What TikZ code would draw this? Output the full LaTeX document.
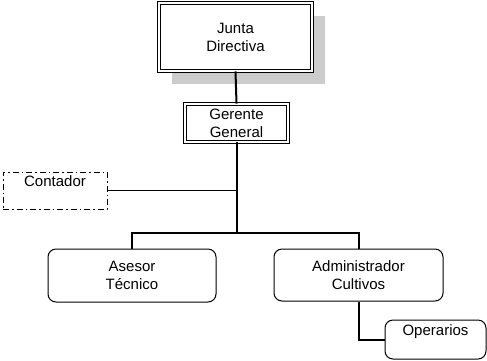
\documentclass[tikz,border=0pt]{standalone}
\usepackage{fontspec}
\setmainfont{Liberation Sans}
\usetikzlibrary{shadows}
\begin{document}
\begin{tikzpicture}[x=1pt,y=-1pt,
  every node/.style={font=\fontsize{15}{18}\selectfont, align=center, inner sep=0pt},
  conn/.style={line width=2pt},
  dbox/.style={draw, fill=white, double, line width=0.9pt, double distance=1.6pt},
  rbox/.style={draw, fill=white, rounded corners=8pt, line width=1pt},
  staff/.style={draw, dash pattern=on 6pt off 3pt on 1.5pt off 3pt, line width=0.9pt},
  shade/.style={general shadow={fill=black!20, shadow xshift=13pt, shadow yshift=-13pt}}]
  \useasboundingbox (0,0) rectangle (487,360);

  % governing boxes
  \node[dbox, shade, minimum width=153, minimum height=68] (jd) at (235.5,37) {Junta\\Directiva};
  \node[dbox, minimum width=103, minimum height=38] (gg) at (236.5,123) {Gerente\\General};

  % staff position (text set near the top edge)
  \node[staff, minimum width=104, minimum height=37, text height=11pt, text depth=20pt]
    (ct) at (55,190.5) {Contador};

  % line units
  \node[rbox, minimum width=168, minimum height=53] (as) at (132,275.5) {Asesor\\Técnico};
  \node[rbox, minimum width=169, minimum height=52] (ac) at (358.5,275) {Administrador\\Cultivos};
  \node[rbox, minimum width=101, minimum height=39, text height=12pt, text depth=21pt]
    (op) at (435.5,339.5) {Operarios};

  % connectors
  \coordinate (bus) at (236.5,233);
  \draw[conn] (jd.south) -- (gg.north);
  \draw[conn] (gg.south) -- (bus);
  \draw[conn, line width=1.5pt] (ct.east) -- (ct.east -| gg.south);
  \draw[conn] (as.north) |- (bus) -| (ac.north);
  \draw[conn] (ac.south) |- (op.west);
\end{tikzpicture}
\end{document}
